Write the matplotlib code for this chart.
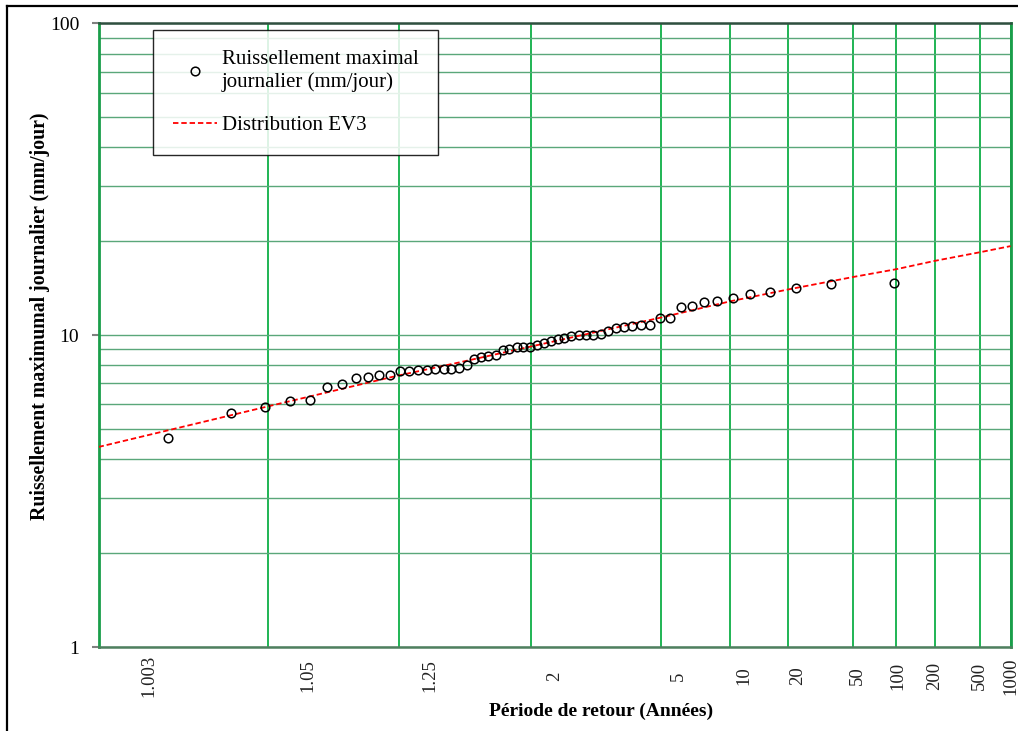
import numpy as np
import matplotlib.pyplot as plt
from matplotlib.lines import Line2D
from matplotlib.ticker import LogLocator, NullFormatter
from statistics import NormalDist

plt.rcParams['font.family'] = ['Liberation Serif', 'DejaVu Serif']

# periodes de retour affichees sous l'axe (position = quantile normal de 1-1/T)
periodes = [1.003, 1.05, 1.25, 2, 5, 10, 20, 50, 100, 200, 500, 1000]
etiquettes = ['1.003', '1.05', '1.25', '2', '5', '10', '20', '50', '100',
              '200', '500', '1000']

# observations : variable reduite (normale) et ruissellement (mm/jour)
obs_z = [-2.620, -2.195, -1.963, -1.791, -1.655, -1.540, -1.438, -1.348,
         -1.267, -1.188, -1.118, -1.050, -0.984, -0.923, -0.865, -0.808,
         -0.752, -0.700, -0.646, -0.594, -0.547, -0.497, -0.449, -0.400,
         -0.352, -0.307, -0.257, -0.212, -0.165, -0.120, -0.072, -0.026,
         0.020, 0.066, 0.114, 0.163, 0.212, 0.262, 0.312, 0.361, 0.415,
         0.472, 0.528, 0.587, 0.648, 0.716, 0.781, 0.854, 0.928, 1.014,
         1.104, 1.211, 1.323, 1.463, 1.635, 1.870, 2.297]
obs_q = [4.68, 5.62, 5.87, 6.17, 6.18, 6.82, 6.95, 7.30, 7.35, 7.46, 7.46,
         7.66, 7.70, 7.72, 7.76, 7.78, 7.78, 7.80, 7.85, 8.05, 8.39, 8.52,
         8.56, 8.63, 8.93, 9.06, 9.14, 9.16, 9.17, 9.31, 9.43, 9.60, 9.71,
         9.77, 9.94, 9.98, 9.98, 10.02, 10.10, 10.35, 10.51, 10.61, 10.71,
         10.74, 10.77, 11.31, 11.31, 12.30, 12.36, 12.76, 12.83, 13.18,
         13.54, 13.71, 14.12, 14.58, 14.65]

# courbe EV3 ajustee
ev3_z = [-3.09, -1.936, -1.077, -0.66, -0.163, 0.725, 1.197, 1.585, 2.028,
         2.317, 2.577, 2.886, 3.09]
ev3_q = [4.38, 5.92, 7.39, 8.15, 9.19, 11.40, 12.86, 14.02, 15.38, 16.28,
         17.31, 18.46, 19.30]

# lignes verticales de la grille (variable reduite)
grille_z = [-1.94, -1.057, -0.163, 0.718, 1.19, 1.585, 2.02, 2.317, 2.575,
            2.886, 3.09]

fig = plt.figure(figsize=(10.18, 7.31), dpi=100)
ax = fig.add_axes([0.0968, 0.1149, 0.8959, 0.8532])
ax.set_yscale('log')
ax.set_ylim(1, 100)
ax.set_xlim(-3.09, 3.09)

ax.set_yticks([1, 10, 100])
ax.set_yticklabels(['1', '10', '100'])
ax.yaxis.set_minor_locator(LogLocator(base=10, subs=np.arange(2, 10)))
ax.yaxis.set_minor_formatter(NullFormatter())
ax.tick_params(axis='y', which='major', direction='out', length=5, width=1.5,
               color='#808080', pad=9, labelsize=14)
ax.tick_params(axis='y', which='minor', length=0)
ax.set_xticks([])
ax.grid(axis='y', which='both', color='#5aa77a', lw=1, zorder=0)
ax.vlines(grille_z, 1, 100, color='#1fb454', lw=1.4, zorder=1)

for s in ['left', 'right']:
    ax.spines[s].set_color('#1a9e4a')
    ax.spines[s].set_linewidth(2)
ax.spines['bottom'].set_color('#4f7f5f')
ax.spines['bottom'].set_linewidth(1.8)
ax.spines['top'].set_color('#2f4f3f')
ax.spines['top'].set_linewidth(1.8)

ax.plot(obs_z, obs_q, 'o', mfc='none', mec='black', ms=6.2, mew=1.1,
        zorder=4, label='Ruissellement maximal\njournalier (mm/jour)')
ax.plot(ev3_z, ev3_q, color='red', ls=(0, (3, 1.6)), lw=1.3, zorder=3,
        label='Distribution EV3')

nd = NormalDist()
for T, lab in zip(periodes, etiquettes):
    z = nd.inv_cdf(1 - 1 / T)
    ax.text(z, -0.0465, lab, rotation=90, ha='center', va='center',
            fontsize=13.5, color='#222222', transform=ax.get_xaxis_transform())

fig.text(601 / 1018, 1 - 711 / 731, 'Période de retour (Années)',
         ha='center', va='center', fontsize=14, fontweight='bold')
fig.text(40 / 1018, 1 - 316 / 731,
         'Ruissellement maximumal journalier (mm/jour)', rotation=90,
         ha='center', va='center', fontsize=14.2, fontweight='bold')

leg = ax.legend(loc='upper left', bbox_to_anchor=(0.0598, 0.989),
                borderaxespad=0, fontsize=15, fancybox=False,
                edgecolor='black', framealpha=0.85, labelspacing=1.15,
                handlelength=2.1, handletextpad=0.25, borderpad=0.95)
leg.get_frame().set_linewidth(1.0)

# cadre exterieur du graphique
fig.add_artist(Line2D([7 / 1018, 1], [1 - 6 / 731] * 2, color='black',
                      lw=1.6, transform=fig.transFigure))
fig.add_artist(Line2D([7 / 1018] * 2, [0, 1 - 6 / 731], color='black',
                      lw=1.6, transform=fig.transFigure))

fig.savefig('out.png', dpi=100)
